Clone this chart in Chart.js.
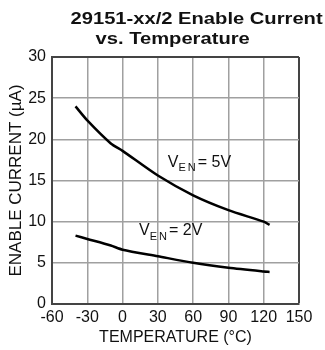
<!DOCTYPE html>
<html>
<head>
<meta charset="utf-8">
<script src="https://cdn.jsdelivr.net/npm/chart.js@4.4.1/dist/chart.umd.min.js"></script>
<style>
  html, body { margin: 0; padding: 0; background: #fff; }
  #wrap { width: 325px; height: 350px; position: relative; }
</style>
</head>
<body>
<div id="wrap"><canvas id="chart"></canvas></div>
<script>
// ---- data ----
const temps5V = [-40, -30, -10, 0, 30, 60, 90, 120, 125];
const current5V = [24.0, 22.3, 19.5, 18.6, 15.6, 13.2, 11.4, 10.0, 9.6];
const temps2V = [-40, -30, -10, 0, 30, 60, 90, 120, 125];
const current2V = [8.3, 7.9, 7.1, 6.6, 5.8, 5.0, 4.4, 3.95, 3.9];
const xTicks = [-60, -30, 0, 30, 60, 90, 120, 150];
const yTicks = [0, 5, 10, 15, 20, 25, 30];
const titleLines = ['29151-xx/2 Enable Current', 'vs. Temperature'];
const seriesLabels = ['5V', '2V'];

const FONT = '"Liberation Sans", Arial, Helvetica, sans-serif';
const toPoints = (xs, ys) => xs.map((x, i) => ({ x: x, y: ys[i] }));

// title drawn by hand (the original type is stretched wide)
const titlePlugin = {
    id: 'twoLineTitle',
    afterDraw(chart) {
        const ctx = chart.ctx;
        ctx.save();
        ctx.fillStyle = '#111';
        ctx.font = 'bold 16px ' + FONT;
        ctx.textBaseline = 'alphabetic';
        [[titleLines[0], 70.5, 24], [titleLines[1], 95.5, 43.5]].forEach(([txt, x, y]) => {
            ctx.save();
            ctx.translate(x, y);
            ctx.scale(1.26, 1);
            ctx.fillText(txt, 0, 0);
            ctx.restore();
        });
        ctx.restore();
    }
};

// V_EN = ... labels next to each curve
const labelPlugin = {
    id: 'venLabels',
    afterDatasetsDraw(chart) {
        const ctx = chart.ctx;
        const xs = chart.scales.x, ys = chart.scales.y;
        const spots = [[38.5, 16.7, seriesLabels[0]], [14, 8.35, seriesLabels[1]]];
        ctx.save();
        ctx.fillStyle = '#111';
        ctx.textBaseline = 'alphabetic';
        spots.forEach(([tx, ty, v]) => {
            let px = xs.getPixelForValue(tx);
            const py = ys.getPixelForValue(ty);
            ctx.font = '16px ' + FONT;
            ctx.fillText('V', px, py);
            px += ctx.measureText('V').width;
            ctx.font = '11px ' + FONT;
            ctx.letterSpacing = '2px';
            ctx.fillText('EN', px, py + 4.5);
            px += ctx.measureText('EN').width;
            ctx.letterSpacing = '0px';
            ctx.font = '16px ' + FONT;
            ctx.fillText('= ' + v, px, py);
        });
        ctx.restore();
    }
};

const gridColor = (max) => (c) => (c.tick && c.tick.value === max ? '#444' : '#a0a0a0');
const gridWidth = (max) => (c) => (c.tick && c.tick.value === max ? 2 : 1.5);

new Chart(document.getElementById('chart'), {
    type: 'line',
    data: {
        datasets: [
            { data: toPoints(temps5V, current5V), borderColor: '#000', borderWidth: 2.5,
              pointRadius: 0, tension: 0.25, fill: false },
            { data: toPoints(temps2V, current2V), borderColor: '#000', borderWidth: 2.5,
              pointRadius: 0, tension: 0.25, fill: false }
        ]
    },
    options: {
        responsive: true,
        maintainAspectRatio: false,
        animation: false,
        layout: { padding: { top: 57, right: 26, left: 0, bottom: 0 } },
        plugins: { legend: { display: false }, tooltip: { enabled: false }, title: { display: false } },
        scales: {
            x: {
                type: 'linear',
                min: xTicks[0], max: xTicks[xTicks.length - 1],
                afterBuildTicks: (s) => { s.ticks = xTicks.map(v => ({ value: v })); },
                afterFit: (s) => { s.height = 46; },
                ticks: { color: '#111', font: { family: FONT, size: 16 }, padding: 4, maxRotation: 0, autoSkip: false },
                grid: { color: gridColor(150), lineWidth: gridWidth(150), drawTicks: false },
                border: { color: '#444', width: 2 },
                title: { display: true, text: 'TEMPERATURE (°C)', color: '#111',
                         font: { family: FONT, size: 16 }, padding: { top: 0, bottom: 3 } }
            },
            y: {
                min: yTicks[0], max: yTicks[yTicks.length - 1],
                afterBuildTicks: (s) => { s.ticks = yTicks.map(v => ({ value: v })); },
                afterFit: (s) => { s.width = 52; },
                ticks: { color: '#111', font: { family: FONT, size: 16 }, padding: 6, autoSkip: false },
                grid: { color: gridColor(30), lineWidth: gridWidth(30), drawTicks: false },
                border: { color: '#444', width: 2 },
                title: { display: true, text: 'ENABLE CURRENT (µA)', color: '#111',
                         font: { family: FONT, size: 17 }, padding: { top: 6, bottom: 0 } }
            }
        }
    },
    plugins: [titlePlugin, labelPlugin]
});
</script>
</body>
</html>
